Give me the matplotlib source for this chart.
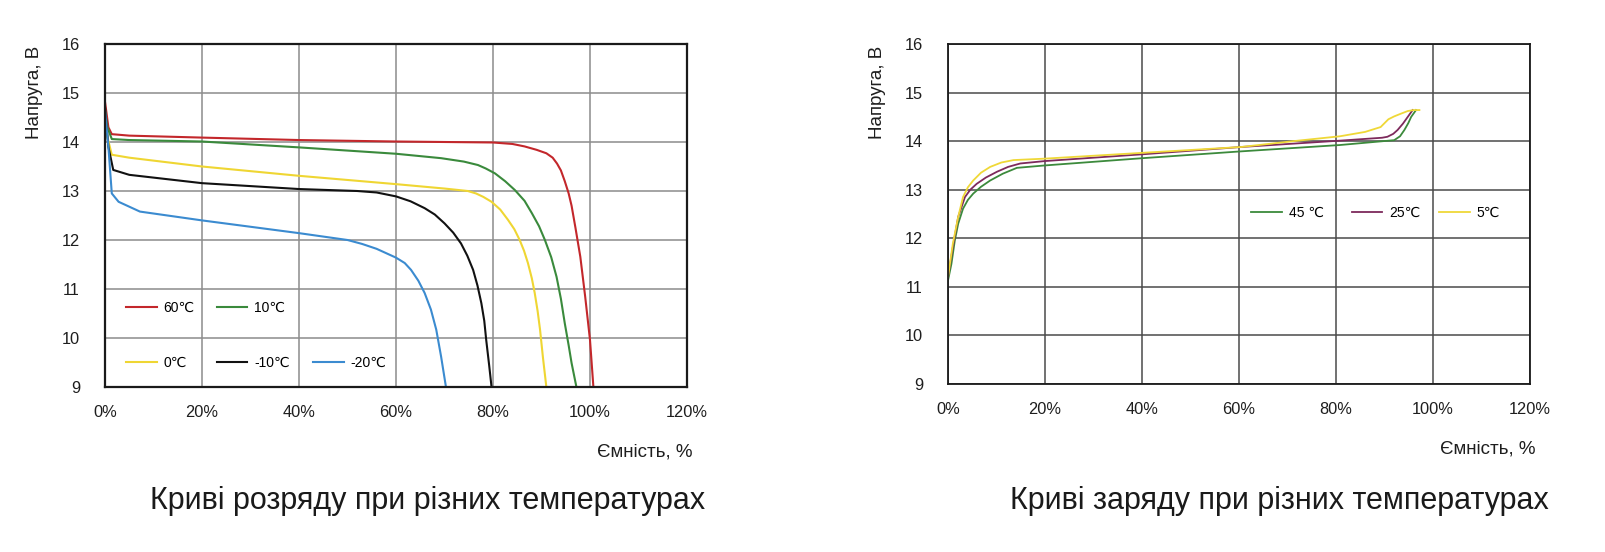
import matplotlib
matplotlib.use("Agg")
import matplotlib.pyplot as plt
from matplotlib.legend import Legend

plt.rcParams['font.family'] = ['Liberation Sans', 'DejaVu Sans']

# ---------------- data: discharge ----------------
dis_labels = ["60℃", "10℃", "0℃", "-10℃", "-20℃"]
dis_colors = ["#c3272b", "#3a8a3c", "#efd633", "#111111", "#3b8bd0"]
x60 = [0, 0.3, 0.7, 1.4, 5, 20, 40, 60, 80, 84, 86.5, 89, 91, 92.3, 93.2, 94, 94.8, 95.6, 96.2, 97, 98, 99, 100, 100.7]
y60 = [14.82, 14.6, 14.3, 14.16, 14.13, 14.09, 14.04, 14.01, 13.99, 13.96, 13.91, 13.84, 13.77, 13.68, 13.56, 13.42, 13.2, 12.95, 12.7, 12.25, 11.66, 10.85, 9.96, 9.0]
x10 = [0, 0.5, 1.4, 5, 20, 40, 60, 69.3, 74, 76.9, 78.5, 80.4, 82.5, 84.5, 86.5, 88, 89.5, 90.7, 92, 93.1, 94, 94.8, 95.6, 96.2, 97.2]
y10 = [14.62, 14.3, 14.06, 14.04, 14.01, 13.89, 13.76, 13.67, 13.6, 13.53, 13.46, 13.36, 13.2, 13.02, 12.8, 12.55, 12.28, 12.0, 11.65, 11.25, 10.8, 10.3, 9.85, 9.49, 9.0]
x0 = [0, 0.5, 1.4, 5, 20, 40, 60, 70, 74.8, 76.5, 78, 79.7, 81.5, 83.1, 84.4, 85.5, 86.4, 87.2, 88, 88.6, 89.2, 89.7, 90.3, 91]
y0 = [14.65, 14.1, 13.74, 13.68, 13.5, 13.31, 13.14, 13.05, 13.0, 12.95, 12.88, 12.78, 12.62, 12.41, 12.22, 12.0, 11.78, 11.53, 11.22, 10.92, 10.55, 10.17, 9.6, 9.0]
xm10 = [0, 0.7, 1.7, 5, 20, 40, 52, 56, 60, 63, 65.9, 68, 70, 71.8, 73.4, 74.7, 75.9, 76.8, 77.6, 78.2, 78.6, 79.2, 79.7]
ym10 = [14.72, 13.9, 13.43, 13.33, 13.16, 13.04, 13.0, 12.97, 12.89, 12.79, 12.65, 12.52, 12.34, 12.15, 11.93, 11.68, 11.39, 11.07, 10.71, 10.35, 9.96, 9.45, 9.0]
xm20 = [0, 0.7, 1.4, 2.8, 7.2, 20, 40, 50, 53, 56, 60, 61.8, 63.1, 64.6, 65.9, 67.2, 68.3, 69.3, 70.3]
ym20 = [14.65, 13.9, 12.95, 12.78, 12.58, 12.40, 12.14, 12.0, 11.92, 11.82, 11.64, 11.53, 11.39, 11.17, 10.92, 10.58, 10.17, 9.62, 9.0]

# ---------------- data: charge ----------------
chg_labels = ["45 ℃", "25℃", "5℃"]
chg_colors = ["#3c8a3c", "#7d2a5c", "#efd838"]
x45 = [0, 0.7, 1.4, 2.1, 3.1, 4.1, 5.2, 6.8, 8.7, 11.3, 14.2, 20, 40.2, 60.5, 80.8, 92, 93.2, 94.1, 94.9, 95.5, 96.5]
y45 = [11.13, 11.47, 11.95, 12.30, 12.61, 12.79, 12.92, 13.06, 13.19, 13.33, 13.45, 13.50, 13.65, 13.79, 13.92, 14.02, 14.1, 14.23, 14.37, 14.5, 14.64]
x25 = [0, 1, 2.1, 3.5, 4.6, 5.9, 7.8, 10.1, 12.4, 14.9, 20, 40.2, 60.5, 80.8, 89.5, 90.6, 91.8, 92.7, 93.8, 94.8, 95.8]
y25 = [11.2, 11.82, 12.44, 12.85, 13.0, 13.12, 13.25, 13.37, 13.47, 13.54, 13.59, 13.73, 13.88, 14.01, 14.07, 14.09, 14.15, 14.23, 14.36, 14.5, 14.64]
x5 = [0, 1, 2.1, 3.1, 4.1, 5.2, 6.8, 8.7, 11, 13.5, 20, 40.2, 60.5, 71.2, 80.8, 86, 89.2, 90, 90.8, 92, 93.5, 94.8, 96, 97.2]
y5 = [11.2, 11.89, 12.44, 12.85, 13.05, 13.19, 13.35, 13.47, 13.56, 13.61, 13.64, 13.76, 13.88, 14.0, 14.1, 14.19, 14.29, 14.37, 14.45, 14.51, 14.57, 14.62, 14.64, 14.64]

x_ticks = [0, 20, 40, 60, 80, 100, 120]
x_ticklabels = ["0%", "20%", "40%", "60%", "80%", "100%", "120%"]
y_ticks = [9, 10, 11, 12, 13, 14, 15, 16]

ylabel = "Напруга, В"
xlabel = "Ємність, %"
title_left = "Криві розряду при різних температурах"
title_right = "Криві заряду при різних температурах"

W, H = 1606, 552
fig = plt.figure(figsize=(W / 100, H / 100), dpi=100)
ax1 = fig.add_axes([105 / W, 1 - 387 / H, 582 / W, 343 / H])
ax2 = fig.add_axes([948 / W, 1 - 384 / H, 582 / W, 340 / H])


def style(ax, gridcol, spine_lw):
    ax.set_xlim(0, 120)
    ax.set_ylim(9, 16)
    ax.set_xticks(x_ticks)
    ax.set_xticklabels(x_ticklabels)
    ax.set_yticks(y_ticks)
    ax.tick_params(axis='both', length=0, labelsize=11.8, colors='#1e1e1e')
    ax.tick_params(axis='y', pad=18)
    ax.tick_params(axis='x', pad=13)
    ax.grid(True, color=gridcol, lw=1.1)
    ax.set_axisbelow(True)
    for s in ax.spines.values():
        s.set_color('#1a1a1a')
        s.set_linewidth(spine_lw)
    ax.set_ylabel(ylabel, fontsize=13.5, color='#1e1e1e', ha='right', va='center')
    ax.yaxis.set_label_coords(-0.1203, 0.995)
    ax.set_xlabel(xlabel, fontsize=13.5, color='#1e1e1e', ha='right', va='center')
    ax.xaxis.set_label_coords(1.0086, -0.19)


style(ax1, '#8c8c8c', 1.6)
style(ax2, '#4a4a4a', 1.3)


def add_key(ax, line, label, pos):
    lg = Legend(ax, [line], [label], loc='center left', bbox_to_anchor=pos, frameon=False,
                borderpad=0, borderaxespad=0, handlelength=2.2, handletextpad=0.5,
                fontsize=10)
    ax.add_artist(lg)


dis_x = [x60, x10, x0, xm10, xm20]
dis_y = [y60, y10, y0, ym10, ym20]
dis_leg_pos = [(0.036, 0.23), (0.192, 0.23), (0.036, 0.07), (0.192, 0.07), (0.358, 0.07)]
for xs, ys, lab, col, pos in zip(dis_x, dis_y, dis_labels, dis_colors, dis_leg_pos):
    ln, = ax1.plot(xs, ys, color=col, lw=1.5, solid_joinstyle='round')
    add_key(ax1, ln, lab, pos)

chg_x = [x45, x25, x5]
chg_y = [y45, y25, y5]
chg_leg_pos = [(0.521, 0.503), (0.694, 0.503), (0.844, 0.503)]
for xs, ys, lab, col, pos in zip(chg_x, chg_y, chg_labels, chg_colors, chg_leg_pos):
    ln, = ax2.plot(xs, ys, color=col, lw=1.3, solid_joinstyle='round')
    add_key(ax2, ln, lab, pos)

fig.text(428 / W, 1 - 501 / H, title_left, ha='center', va='center', fontsize=22, color='#1a1a1a')
fig.text(1279 / W, 1 - 501 / H, title_right, ha='center', va='center', fontsize=22, color='#1a1a1a')

fig.savefig("out.png", dpi=100, facecolor='white')
